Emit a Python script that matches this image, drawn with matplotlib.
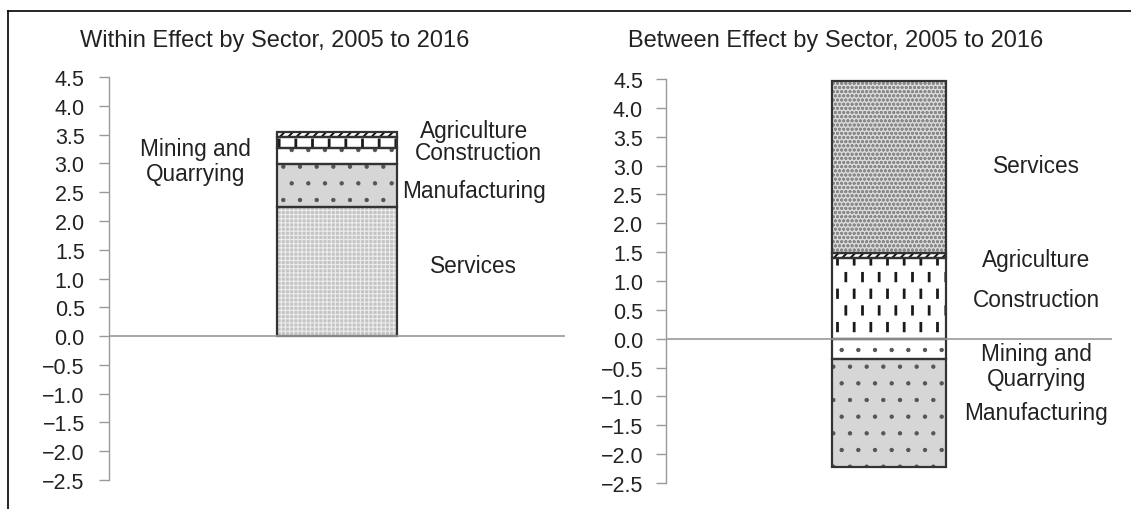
import numpy as np
import matplotlib
matplotlib.use("Agg")
import matplotlib.pyplot as plt
from matplotlib import hatch as mhatch
from matplotlib.path import Path
from matplotlib.lines import Line2D
import matplotlib.transforms as mtransforms

# ---------------- data ----------------
sectors = ["Services", "Manufacturing", "Mining and\nQuarrying", "Construction", "Agriculture"]
within_values = [2.24, 0.75, 0.27, 0.19, 0.09]      # stacked from 0 upward
between_pos_sectors = ["Construction", "Agriculture", "Services"]
between_pos_values = [1.39, 0.09, 2.99]
between_neg_sectors = ["Mining and\nQuarrying", "Manufacturing"]
between_neg_values = [-0.35, -1.88]
yticks = [4.5, 4.0, 3.5, 3.0, 2.5, 2.0, 1.5, 1.0, 0.5, 0.0, -0.5, -1.0, -1.5, -2.0, -2.5]
titles = ["Within Effect by Sector, 2005 to 2016", "Between Effect by Sector, 2005 to 2016"]

# label positions (axes-fraction x, data y)
within_label_pos = {"Agriculture": (0.80, 3.57), "Construction": (0.81, 3.19),
                    "Mining and\nQuarrying": (0.19, 3.04), "Manufacturing": (0.80, 2.53),
                    "Services": (0.80, 1.22)}
between_label_pos = {"Services": (0.83, 3.0), "Agriculture": (0.83, 1.38),
                     "Construction": (0.83, 0.68), "Mining and\nQuarrying": (0.83, -0.47),
                     "Manufacturing": (0.83, -1.27)}


# custom vertical-dash hatch ('!')
class VDash(mhatch.HatchPatternBase):
    def __init__(self, hatch, density):
        self.n = hatch.count('!') * density
        self.num_vertices = 2 * self.n * self.n

    def set_vertices_and_codes(self, vertices, codes):
        n = self.n
        k = 0
        for r in range(n):
            for c in range(n):
                x = ((c + 0.5 * (r % 2) + 0.25) / n) % 1.0
                vertices[k] = (x, (r + 0.15) / n)
                vertices[k + 1] = (x, (r + 0.6) / n)
                codes[k] = Path.MOVETO
                codes[k + 1] = Path.LINETO
                k += 2

mhatch._hatch_types.append(VDash)

plt.rcParams['font.family'] = ['Liberation Sans', 'DejaVu Sans']
plt.rcParams['hatch.linewidth'] = 1.0

styles = {
    "Services_w": dict(facecolor="#c4c4c4", hatch="++++", hcolor="#ececec", hlw=0.8),
    "Services_b": dict(facecolor="#dadada", hatch="oooo", hcolor="#8a8a8a", hlw=0.9),
    "Manufacturing": dict(facecolor="#d6d6d6", hatch=".", hcolor="#555555", hlw=0.7),
    "Mining and\nQuarrying": dict(facecolor="white", hatch=".", hcolor="#555555", hlw=0.7),
    "Construction": dict(facecolor="white", hatch="!", hcolor="#1a1a1a", hlw=2.0),
    "Agriculture": dict(facecolor="white", hatch="////", hcolor="#111111", hlw=1.4),
}

TXT = "#222222"
AX = "#9a9a9a"
TICK_FS = 15.5
LAB_FS = 16.3
TITLE_FS = 17

fig = plt.figure(figsize=(11.31, 5.10), dpi=100)
W, H = 1131, 510

# frame
fig.add_artist(Line2D([8 / W, 8 / W], [0, 1 - 12 / H], color="black", lw=1.2))
fig.add_artist(Line2D([8 / W, 1], [1 - 12 / H, 1 - 12 / H], color="black", lw=1.2))

ax1 = fig.add_axes([109 / W, 1 - 481 / H, (565 - 109) / W, (481 - 78) / H])
ax2 = fig.add_axes([666 / W, 1 - 484 / H, (1112 - 666) / W, (484 - 80) / H])

bw1 = 0.261
bw2 = 0.256


def draw_seg(ax, x, bottom, h, width, st):
    with plt.rc_context({'hatch.linewidth': st["hlw"]}):
        ax.bar(x, h, width, bottom=bottom, color=st["facecolor"], edgecolor=st["hcolor"],
               hatch=st["hatch"], linewidth=0, zorder=2)
    ax.bar(x, h, width, bottom=bottom, fill=False, edgecolor="#333333", linewidth=1.6, zorder=3)


# within
bottom = 0.0
for s, v in zip(sectors, within_values):
    key = "Services_w" if s == "Services" else s
    draw_seg(ax1, 0.5, bottom, v, bw1, styles[key])
    bottom += v

# between
bottom = 0.0
for s, v in zip(between_pos_sectors, between_pos_values):
    key = "Services_b" if s == "Services" else s
    draw_seg(ax2, 0.5, bottom, v, bw2, styles[key])
    bottom += v
bottom = 0.0
for s, v in zip(between_neg_sectors, between_neg_values):
    draw_seg(ax2, 0.5, bottom, v, bw2, styles[s])
    bottom += v


def fmt(v, pos):
    return ("%.1f" % v).replace("-", "\u2212")


for ax, pos, pad in ((ax1, within_label_pos, 10.5), (ax2, between_label_pos, 9.5)):
    ax.set_xlim(0, 1)
    ax.set_ylim(-2.5, 4.5)
    ax.set_yticks(yticks)
    ax.yaxis.set_major_formatter(matplotlib.ticker.FuncFormatter(fmt))
    ax.set_xticks([])
    for sp in ("top", "right", "bottom"):
        ax.spines[sp].set_visible(False)
    ax.spines["left"].set_color(AX)
    ax.spines["left"].set_linewidth(1.0)
    ax.tick_params(axis="y", direction="out", length=7, width=1.0, color=AX,
                   labelsize=TICK_FS, labelcolor=TXT, pad=pad)
    ax.axhline(0, color=AX, lw=1.2, zorder=4)
    ax.patch.set_alpha(0)
    trans = mtransforms.blended_transform_factory(ax.transAxes, ax.transData)
    for name, (xf, yv) in pos.items():
        ax.text(xf, yv, name, transform=trans, ha="center", va="center",
                fontsize=LAB_FS, color=TXT, linespacing=1.1)

fig.text(80 / W, 1 - 41 / H, titles[0], fontsize=TITLE_FS, color=TXT, ha="left", va="center")
fig.text(628 / W, 1 - 41 / H, titles[1], fontsize=TITLE_FS, color=TXT, ha="left", va="center")

fig.savefig("out.png", dpi=100)
